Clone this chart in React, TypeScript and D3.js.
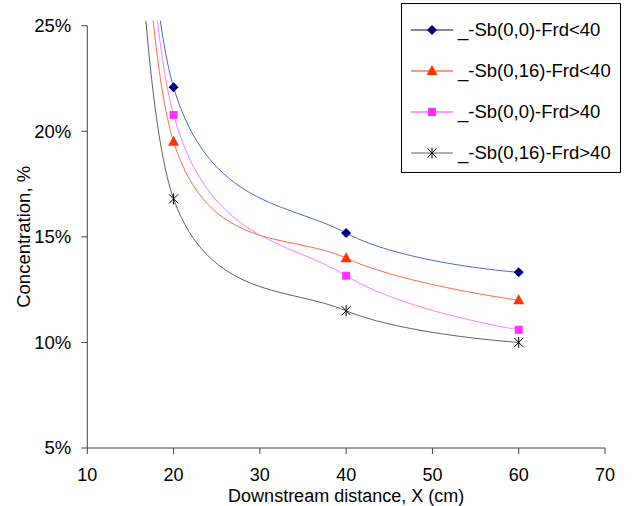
import React, { useEffect, useRef } from "react";
import * as d3 from "d3";

// downstream distance (cm); the first station sits off the top of the chart
const distances = [15, 20, 40, 60];

const seriesNames = [
  "_-Sb(0,0)-Frd<40",
  "_-Sb(0,16)-Frd<40",
  "_-Sb(0,0)-Frd>40",
  "_-Sb(0,16)-Frd>40",
];

// concentration, %
const sb00Below = [49.4, 22.08, 15.18, 13.32];
const sb016Below = [46.1, 19.5, 13.99, 12.0];
const sb00Above = [49.8, 20.77, 13.16, 10.6];
const sb016Above = [40.1, 16.8, 11.5, 10.0];

const xTicks = [10, 20, 30, 40, 50, 60, 70];
const yTicks = [5, 10, 15, 20, 25];

const series = [
  { name: seriesNames[0], values: sb00Below, color: "#000080", line: "#5566c4", marker: "diamond" },
  { name: seriesNames[1], values: sb016Below, color: "#ff3300", line: "#ff6a4a", marker: "triangle" },
  { name: seriesNames[2], values: sb00Above, color: "#ff33ff", line: "#ff7cff", marker: "square" },
  { name: seriesNames[3], values: sb016Above, color: "#000000", line: "#606060", marker: "star" },
];

const W = 634;
const H = 506;
const FONT = "Liberation Sans, Arial, sans-serif";
const FS = 18.5;

function drawMarker(g, type, x, y, color) {
  if (type === "diamond") {
    g.append("path")
      .attr("d", `M${x},${y - 5}L${x + 5},${y}L${x},${y + 5}L${x - 5},${y}Z`)
      .attr("fill", color);
  } else if (type === "triangle") {
    g.append("path")
      .attr("d", `M${x},${y - 6}L${x + 5.5},${y + 4}L${x - 5.5},${y + 4}Z`)
      .attr("fill", color);
  } else if (type === "square") {
    g.append("rect")
      .attr("x", x - 4)
      .attr("y", y - 4)
      .attr("width", 8)
      .attr("height", 8)
      .attr("fill", color);
  } else {
    const r = 4.5;
    g.append("path")
      .attr("d", `M${x - r},${y - r}L${x + r},${y + r}M${x - r},${y + r}L${x + r},${y - r}M${x},${y - r - 1}L${x},${y + r + 1}`)
      .attr("stroke", color)
      .attr("stroke-width", 1)
      .attr("fill", "none");
  }
}

export default function App() {
  const ref = useRef(null);

  useEffect(() => {
    const svg = d3.select(ref.current);
    svg.selectAll("*").remove();

    const left = 87.3, right = 605, top = 25.7, bottom = 448;

    const x = d3.scaleLinear().domain([10, 70]).range([left, right]);
    const y = d3.scaleLinear().domain([5, 25]).range([bottom, top]);

    svg.append("rect").attr("width", W).attr("height", H).attr("fill", "#fff");

    svg.append("defs")
      .append("clipPath")
      .attr("id", "plotclip")
      .append("rect")
      .attr("x", left)
      .attr("y", top - 5)
      .attr("width", right - left)
      .attr("height", bottom - top + 5);

    const plot = svg.append("g").attr("clip-path", "url(#plotclip)");

    const line = d3
      .line()
      .x((d, i) => x(distances[i]))
      .y(d => y(d))
      .curve(d3.curveCardinal.tension(0));

    series.forEach(s => {
      plot.append("path")
        .attr("d", line(s.values))
        .attr("fill", "none")
        .attr("stroke", s.line)
        .attr("stroke-width", 1);
    });

    series.forEach(s => {
      s.values.forEach((v, i) => {
        if (v <= 25) drawMarker(plot, s.marker, x(distances[i]), y(v), s.color);
      });
    });

    // axes
    const axisColor = "#404040";
    svg.append("line")
      .attr("x1", left).attr("x2", left).attr("y1", top).attr("y2", bottom)
      .attr("stroke", axisColor);
    svg.append("line")
      .attr("x1", left).attr("x2", right).attr("y1", bottom).attr("y2", bottom)
      .attr("stroke", axisColor);

    yTicks.forEach(t => {
      svg.append("line")
        .attr("x1", left - 6).attr("x2", left).attr("y1", y(t)).attr("y2", y(t))
        .attr("stroke", axisColor);
      svg.append("text")
        .attr("x", left - 16)
        .attr("y", y(t))
        .attr("dy", "0.35em")
        .attr("text-anchor", "end")
        .attr("font-family", FONT)
        .attr("font-size", FS)
        .text(`${t}%`);
    });

    xTicks.forEach(t => {
      svg.append("line")
        .attr("x1", x(t)).attr("x2", x(t)).attr("y1", bottom).attr("y2", bottom + 6)
        .attr("stroke", axisColor);
      svg.append("text")
        .attr("x", x(t))
        .attr("y", 480.5)
        .attr("text-anchor", "middle")
        .attr("font-family", FONT)
        .attr("font-size", 18)
        .text(t);
    });

    svg.append("text")
      .attr("x", (left + right) / 2)
      .attr("y", 501.5)
      .attr("text-anchor", "middle")
      .attr("font-family", FONT)
      .attr("font-size", 18)
      .text("Downstream distance, X (cm)");

    svg.append("text")
      .attr("transform", `translate(30,${(top + bottom) / 2}) rotate(-90)`)
      .attr("text-anchor", "middle")
      .attr("font-family", FONT)
      .attr("font-size", FS)
      .text("Concentration, %");

    // legend
    const lg = svg.append("g");
    lg.append("rect")
      .attr("x", 401.5).attr("y", 3.5).attr("width", 219).attr("height", 169)
      .attr("fill", "#fff").attr("stroke", "#000");
    series.forEach((s, i) => {
      const ly = 30 + i * 41;
      lg.append("line")
        .attr("x1", 411).attr("x2", 453).attr("y1", ly).attr("y2", ly)
        .attr("stroke", s.color === "#000000" ? "#606060" : s.color)
        .attr("stroke-width", 1);
      drawMarker(lg, s.marker, 432, ly, s.color);
      lg.append("text")
        .attr("x", 458)
        .attr("y", ly)
        .attr("dy", "0.35em")
        .attr("font-family", FONT)
        .attr("font-size", FS)
        .text(s.name);
    });
  }, []);

  return (
    <svg
      ref={ref}
      width={W}
      height={H}
      style={{ position: "absolute", left: 0, top: 0, display: "block" }}
    />
  );
}
